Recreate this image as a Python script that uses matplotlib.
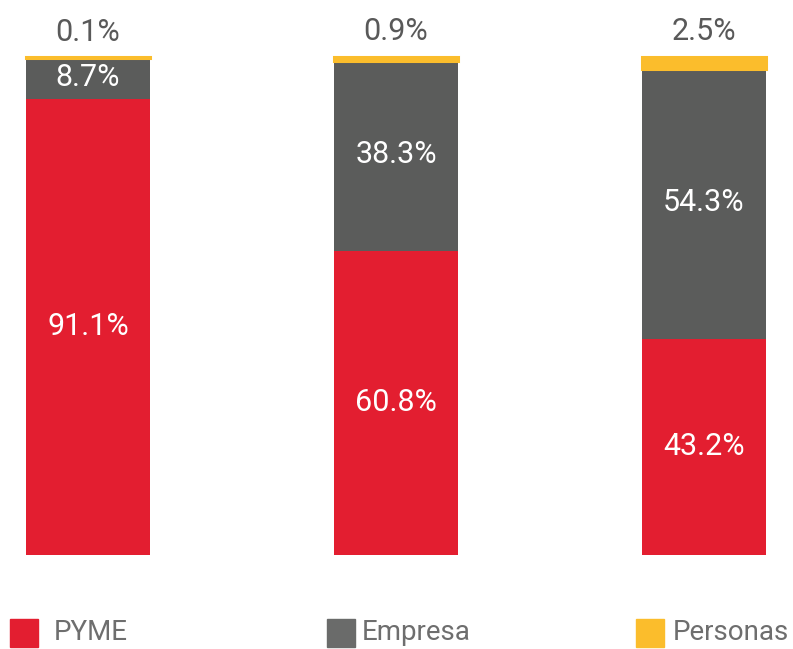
import matplotlib.pyplot as plt
import numpy as np
from matplotlib.patches import Rectangle

categories = ["PYME", "Empresa", "Personas"]
pyme = [91.1, 60.8, 43.2]
empresa = [8.7, 38.3, 54.3]
personas = [0.1, 0.9, 2.5]

colors = ["#E31E30", "#5B5C5B", "#FBBD2C"]

plt.rcParams['font.family'] = ['Roboto', 'DejaVu Sans']

W, H = 793, 649
fig = plt.figure(figsize=(W / 100, H / 100), dpi=100)
ax = fig.add_axes([0, 0, 1, 1])
ax.set_xlim(-88 / 308, (W - 88) / 308)
ax.set_ylim(-94.3 / 5, (H - 94.3) / 5)
ax.axis('off')

x = np.arange(3)
width = 124 / 308
pyme = np.array(pyme)
empresa = np.array(empresa)
personas = np.array(personas)

ax.bar(x, pyme, width, color=colors[0], linewidth=0)
ax.bar(x, empresa, width, bottom=pyme, color=colors[1], linewidth=0)
ax.bar(x, personas, width, bottom=pyme + empresa - 0.4, color=colors[2],
       edgecolor=colors[2], linewidth=2.2, zorder=3)

for i in range(3):
    ax.text(x[i], pyme[i] / 2, f"{pyme[i]:.1f}%", color='white',
            ha='center', va='center', fontsize=22)
    ax.text(x[i], pyme[i] + empresa[i] / 2, f"{empresa[i]:.1f}%", color='white',
            ha='center', va='center', fontsize=22)
    ax.annotate(f"{personas[i]:.1f}%", (x[i], pyme[i] + empresa[i] + personas[i]),
                xytext=(0, 6), textcoords='offset points', color='#595959',
                ha='center', va='bottom', fontsize=22)

# legend at the bottom
leg_x = [10, 327, 636]
txt_x = [54, 362, 673]
for i, name in enumerate(categories):
    fig.patches.append(Rectangle((leg_x[i] / W, 2 / H), 28 / W, 28 / H,
                                 transform=fig.transFigure, color=colors[i] if i != 1 else "#6A6B6A"))
    fig.text(txt_x[i] / W, 16 / H, name, color='#6E6E6E',
             ha='left', va='center', fontsize=20)

fig.savefig("out.png")
